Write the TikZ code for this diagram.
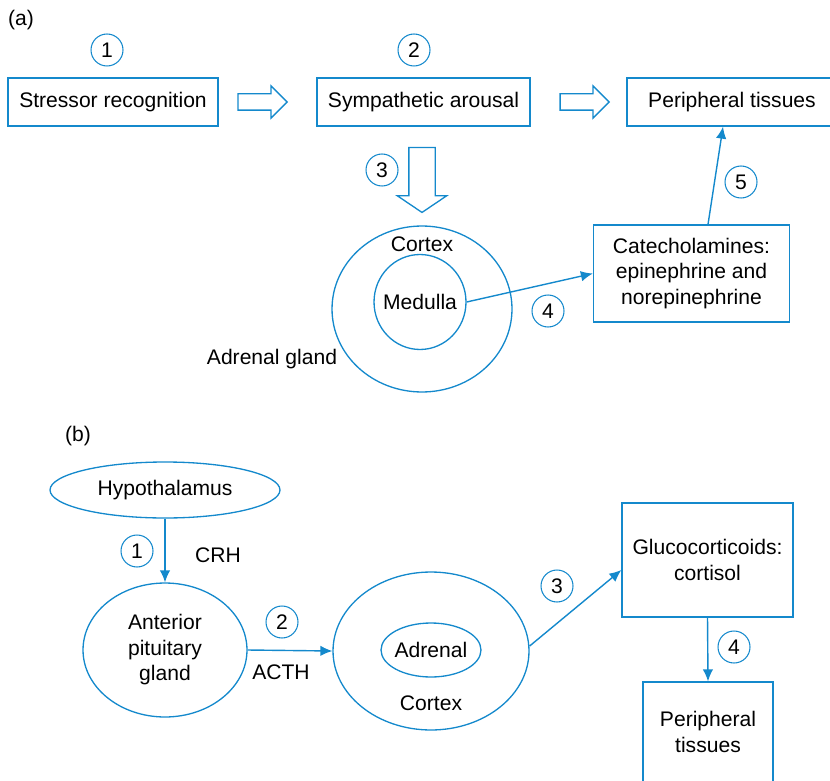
\documentclass[tikz,border=0pt]{standalone}
\usepackage{fontspec}
\setmainfont{Liberation Sans}
\usetikzlibrary{arrows.meta,positioning,shapes.geometric,shapes.arrows}
\definecolor{flowblue}{RGB}{20,137,204}

\begin{document}
\begin{tikzpicture}[
  x=0.02cm, y=-0.02cm,
  every node/.style={font=\fontsize{12}{14.5}\selectfont},
  box/.style={
    rectangle, draw=flowblue, line width=0.75pt,
    align=center, inner sep=0pt
  },
  oval/.style={
    ellipse, draw=flowblue, line width=0.75pt,
    align=center, inner sep=0pt
  },
  num/.style={
    circle, draw=flowblue, line width=0.6pt,
    minimum size=0.64cm, inner sep=0pt
  },
  blockarr/.style={
    single arrow, draw=flowblue, line width=0.75pt,
    inner xsep=0pt, inner ysep=0.15cm,
    single arrow head extend=0.16cm, minimum height=0.98cm
  },
  arr/.style={-{Latex[length=2.4mm,width=2.1mm]}, draw=flowblue, line width=0.8pt},
]
\useasboundingbox (0,0) rectangle (830,780);

% ── (a) sympathetic pathway ──
\node (tagA) at (21,20) {(a)};

\node[box, minimum width=4.2cm, minimum height=0.96cm] (stressor) at (113,102)
  {Stressor recognition};
\node[box, minimum width=4.26cm, minimum height=0.96cm] (arousal) at (423.5,102)
  {Sympathetic arousal};
\node[box, minimum width=4.2cm, minimum height=0.96cm] (periphA) at (732,102)
  {Peripheral tissues};

\node[blockarr] (push1) at (258.5,102) {};
\node[blockarr] (push2) at (580.5,102) {};
\node[blockarr, rotate=-90, minimum height=1.3cm, inner ysep=0.25cm,
  single arrow head extend=0.23cm, single arrow tip angle=112] (push3) at (422,175.5) {};

\node[oval, minimum width=3.6cm, minimum height=3.32cm] (cortexA) at (422,309) {};
\node[oval, minimum width=1.84cm, minimum height=1.9cm,
  label=center:Medulla] (medulla) at (420,302) {};
\node (cortexlblA) at (422,244) {Cortex};
\node (adrenal) at (272,359) {Adrenal gland};

\node[box, minimum width=3.92cm, minimum height=1.94cm] (catech) at (691.5,273.5)
  {Catecholamines:\\epinephrine and\\norepinephrine};

\node[num] (a1) at (107,50) {1};
\node[num] (a2) at (414,50) {2};
\node[num] (a3) at (382,170) {3};
\node[num] (a4) at (548,311) {4};
\node[num] (a5) at (741,182) {5};

\draw[arr] (medulla.east) -- (catech.west);
\draw[arr] ([xshift=0.33cm]catech.north) -- ([xshift=-0.18cm]periphA.south);

% ── (b) HPA axis ──
\node (tagB) at (78,436) {(b)};

\node[oval, minimum width=4.6cm, minimum height=1.12cm] (hypo) at (165,490) {Hypothalamus};
\node[oval, minimum width=3.28cm, minimum height=2.68cm] (pituitary) at (165,650)
  {Anterior\\pituitary\\gland};
\node[oval, minimum width=3.92cm, minimum height=3.16cm] (cortexB) at (431,651) {};
\node[oval, minimum width=2.0cm, minimum height=1.08cm,
  label=center:Adrenal] (adrinner) at (431,650) {};
\node (cortexlblB) at (431,703) {Cortex};

\node[box, minimum width=3.42cm, minimum height=2.28cm] (gluco) at (707.5,560)
  {Glucocorticoids:\\cortisol};
\node[box, minimum width=2.6cm, minimum height=2.0cm] (periphB) at (708,732)
  {Peripheral\\tissues};

\node (crh) at (218,555) {CRH};
\node (acth) at (281,672) {ACTH};

\node[num] (b1) at (137,551) {1};
\node[num] (b2) at (282,622) {2};
\node[num] (b3) at (557,586) {3};
\node[num] (b4) at (734,647) {4};

\draw[arr] (hypo.south) -- (pituitary.north);
\draw[arr] (pituitary.east) -- (cortexB.west);
\draw[arr] ([yshift=0.1cm]cortexB.east) -- ([yshift=-0.2cm]gluco.west);
\draw[arr] (gluco.south) -- (periphB.north);
\end{tikzpicture}
\end{document}
